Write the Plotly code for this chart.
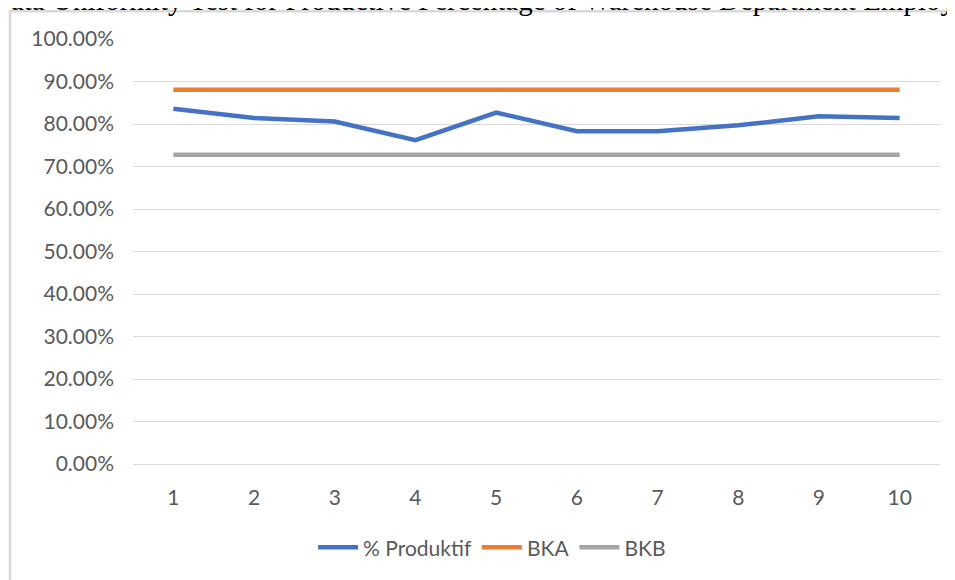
import plotly.graph_objects as go

periods = [1, 2, 3, 4, 5, 6, 7, 8, 9, 10]
produktif = [0.836, 0.814, 0.806, 0.762, 0.827, 0.783, 0.783, 0.797, 0.818, 0.814]
bka = [0.8805] * 10
bkb = [0.7275] * 10
title_text = "Data Uniformity Test for Productive Percentage of Warehouse Department Employees"

font_family = "Lato, 'Open Sans', sans-serif"
tick_color = "#595959"
grid_color = "#d9d9d9"

fig = go.Figure()
fig.add_trace(go.Scatter(x=periods, y=produktif, mode="lines", name="% Produktif",
                         line=dict(color="#4472C4", width=4.5)))
fig.add_trace(go.Scatter(x=periods, y=bka, mode="lines", name="BKA",
                         line=dict(color="#ED7D31", width=4.5)))
fig.add_trace(go.Scatter(x=periods, y=bkb, mode="lines", name="BKB",
                         line=dict(color="#A5A5A5", width=4.5)))

# page body has an 8px margin, so the figure is sized to fill the rest of the window
fig.update_layout(
    width=947, height=572,
    margin=dict(l=125, r=15, t=31, b=114),
    paper_bgcolor="white", plot_bgcolor="white",
    font=dict(family=font_family, color=tick_color, size=21),
    showlegend=True,
    legend=dict(orientation="h", x=0.445, xanchor="center", y=-0.197, yanchor="middle",
                font=dict(size=21, color=tick_color), itemwidth=40),
    xaxis=dict(range=[0.5, 10.5], tickmode="array", tickvals=periods,
               ticktext=[str(p) for p in periods], showgrid=False, zeroline=False,
               showline=True, linecolor=grid_color, linewidth=1, ticks="",
               ticklabelstandoff=15, tickfont=dict(size=21, color=tick_color)),
    yaxis=dict(range=[0, 1.0], tick0=0, dtick=0.1, tickformat=".2%", showgrid=True,
               gridcolor=grid_color, gridwidth=1, zeroline=False, showline=False,
               ticks="", ticklabelstandoff=18, tickfont=dict(size=21, color=tick_color)),
    shapes=[dict(type="rect", xref="paper", yref="paper",
                 x0=(2 - 125) / 807, x1=1.2, y0=-0.6, y1=(458 - 3) / 427,
                 line=dict(color="#d9d9d9", width=2.5), fillcolor="rgba(0,0,0,0)", layer="below")],
    annotations=[dict(text=title_text, xref="paper", yref="paper",
                      x=0.443, xanchor="center", y=1.0925, yanchor="middle",
                      showarrow=False,
                      font=dict(family="'Liberation Serif', 'Times New Roman', serif", size=29, color="black"))],
)

fig.write_html("out.html")
